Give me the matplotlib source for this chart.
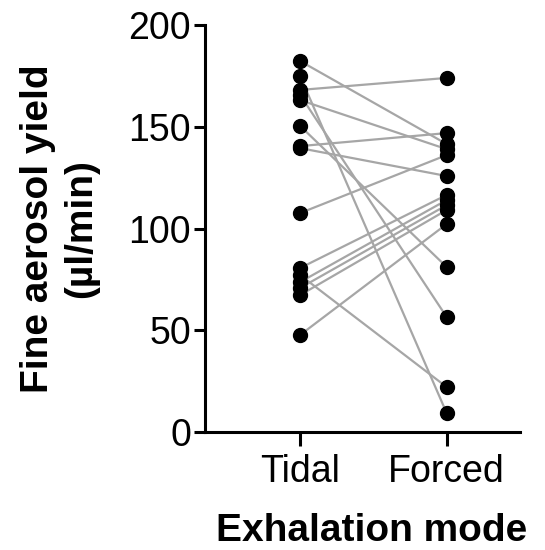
import numpy as np
import matplotlib
matplotlib.use("Agg")
import matplotlib.pyplot as plt

plt.rcParams["font.family"] = ["Liberation Sans", "DejaVu Sans"]

# paired measurements, one subject per index
modes = ["Tidal", "Forced"]
tidal = [182.3, 174.9, 168.1, 165.6, 163.1, 150.4, 140.5, 139.5, 107.6,
         80.6, 77.1, 73.7, 70.8, 67.3, 47.7]
forced = [141.5, 9.3, 174.0, 56.5, 139.0, 81.1, 146.9, 125.8, 136.1,
          116.5, 22.1, 114.0, 111.5, 109.1, 102.2]
yticks = [0, 50, 100, 150, 200]

fig = plt.figure(figsize=(5.45, 5.5), dpi=100)
ax = fig.add_axes([0.376, 0.2145, 0.578, 0.74])

for t, f in zip(tidal, forced):
    ax.plot([0, 1], [t, f], color="#a6a6a6", lw=1.6, zorder=1)
ax.scatter(np.zeros(len(tidal)), tidal, s=100, color="black", zorder=2, clip_on=False)
ax.scatter(np.ones(len(forced)), forced, s=100, color="black", zorder=2, clip_on=False)

ax.set_xlim(-0.65, 1.5)
ax.set_ylim(0, 200)
ax.set_yticks(yticks)
ax.set_xticks([0, 1])
ax.set_xticklabels(modes)
for s in ("top", "right"):
    ax.spines[s].set_visible(False)
for s in ("left", "bottom"):
    ax.spines[s].set_linewidth(2.2)
ax.tick_params(axis="both", width=2.2, length=8, labelsize=27, pad=2)
ax.tick_params(axis="x", length=10, pad=6)
ax.set_ylabel("Fine aerosol yield\n(µl/min)", fontsize=28, fontweight="bold", labelpad=21,
              linespacing=1.25)
ax.set_xlabel("Exhalation mode", fontsize=28, fontweight="bold")
ax.xaxis.set_label_coords(0.53, -0.198)

fig.savefig("out.png", dpi=100)
